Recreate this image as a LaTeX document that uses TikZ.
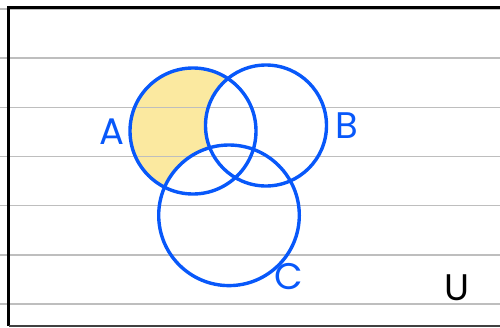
\documentclass[tikz,border=0pt]{standalone}
\usepackage{fontspec}
\setmainfont{Poppins}
\definecolor{vennblue}{RGB}{8,88,250}
\definecolor{vennyellow}{RGB}{251,233,160}
\definecolor{ruled}{RGB}{190,190,190}
\tikzset{
  venn/.style={circle, draw=vennblue, line width=3.4pt, inner sep=0pt},
  setlabel/.style={text=vennblue, font=\fontsize{37}{37}\selectfont, inner sep=0pt},
  ruleline/.style={draw=ruled, line width=1.6pt},
}
\begin{document}
\begin{tikzpicture}[x=1pt,y=-1pt]
\useasboundingbox (0,0) rectangle (500,327);
% shaded region A only
\begin{scope}[even odd rule]
  \clip (-10,-10) rectangle (510,340) (266,125.5) circle (60.5);
  \clip (-10,-10) rectangle (510,340) (229,215.3) circle (70.3);
  \clip (193,131) circle (63);
  \fill[vennyellow] (120,60) rectangle (260,200);
\end{scope}
% ruled lines
\foreach \yy in {9,58,107.3,156.4,205.6,254.8,304}
  \draw[ruleline] (0,\yy) -- (500,\yy);
% frame
\draw[line width=3pt, line join=miter] (501,7.5) -- (8.5,7.5) -- (8.5,326);
\draw[line width=2pt, draw=black!75] (8.5,326) -- (501,326);
% circles
\node[venn, minimum size=126pt] (A) at (193,131) {};
\node[venn, minimum size=121pt] (B) at (266,125.5) {};
\node[venn, minimum size=140.6pt] (C) at (229,215.3) {};
% labels
\node[setlabel] (lA) at (112,132) {A};
\node[setlabel] (lB) at (347,126) {B};
\node[setlabel] (lC) at (289,277) {C};
\node[setlabel, text=black] (lU) at (457,288) {U};
\end{tikzpicture}
\end{document}
